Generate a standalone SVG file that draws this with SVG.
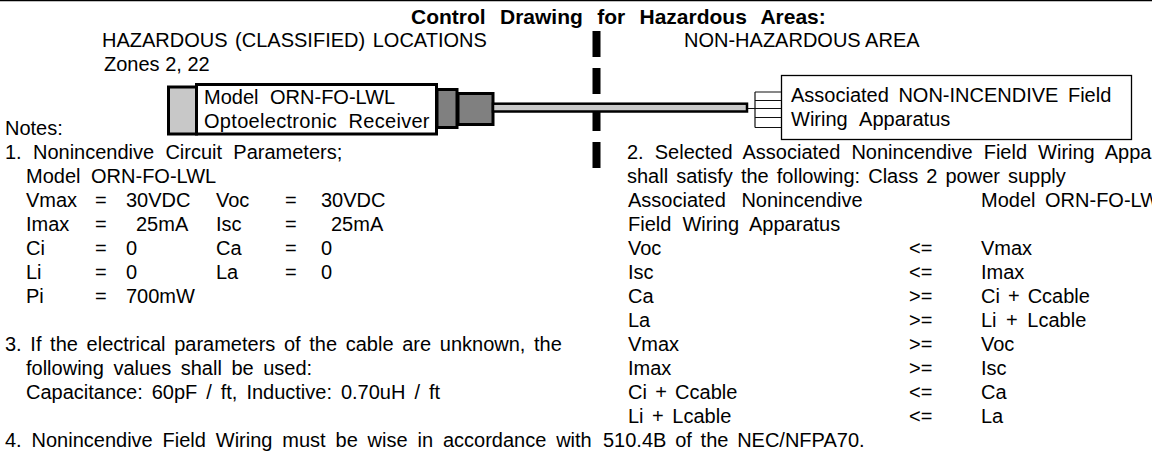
<svg xmlns="http://www.w3.org/2000/svg" width="1152" height="451" viewBox="0 0 1152 451">
<style>
text{font-family:"Liberation Sans",Arial,sans-serif;font-size:20px;fill:#000;word-spacing:3px;white-space:pre}
.b{font-weight:bold;font-size:21px;word-spacing:8.500px}
.k{stroke:#000;stroke-width:3}
.t{stroke:#111;stroke-width:1.200;fill:none}
</style>
<rect width="1152" height="451" fill="#fff"/>
<path d="M0 0.5H1152" stroke="#000" stroke-width="1.5"/>
<g id="divider"><path d="M596.500 31V168" stroke="#000" stroke-width="8" stroke-dasharray="26 11" fill="none"/></g>
<g id="receiver">
<rect x="168.500" y="87" width="28" height="47" fill="#c8c8c8" class="k"/>
<rect x="437" y="89.500" width="20" height="38" fill="#808080" class="k"/>
<rect x="458" y="93.500" width="35" height="31" fill="#808080" class="k"/>
<rect x="196.500" y="84.500" width="240" height="49.500" fill="#fff" class="k"/>
<text x="204" y="104" style="word-spacing:6px">Model ORN-FO-LWL</text>
<text x="204" y="128" style="word-spacing:5.500px;letter-spacing:.3px">Optoelectronic Receiver</text>
</g>
<g id="connectors">
<rect x="493" y="103.700" width="254" height="7.800" fill="#c8c8c8" stroke="#000" stroke-width="2.500"/>
<path class="t" d="M748 108.500H781M755 92H781M755 100.500H781M755 117.500H781M755 127.500H781M755 92V127.500"/>
</g>
<g id="apparatus">
<rect x="781.500" y="75.500" width="350" height="64" fill="#fff" stroke="#000" stroke-width="1.300"/>
<text x="791" y="102" style="word-spacing:4px">Associated NON-INCENDIVE Field</text>
<text x="791" y="126" style="word-spacing:7px">Wiring Apparatus</text>
</g>
<text class="b" x="411" y="24">Control Drawing for Hazardous Areas:</text>
<text x="102" y="47" style="word-spacing:2px">HAZARDOUS (CLASSIFIED) LOCATIONS</text>
<text x="104" y="71" style="word-spacing:0">Zones 2, 22</text>
<text x="684" y="47" style="word-spacing:0">NON-HAZARDOUS AREA</text>
<g id="notes-left">
<text x="5" y="135">Notes:</text>
<text x="5" y="159" style="word-spacing:5.700px">1. Nonincendive Circuit Parameters;</text>
<text x="26" y="183" style="word-spacing:5px">Model ORN-FO-LWL</text>
<text x="26" y="207">Vmax</text><text x="95" y="207">=</text><text x="126" y="207">30VDC</text><text x="216" y="207">Voc</text><text x="285" y="207">=</text><text x="321" y="207">30VDC</text>
<text x="26" y="231">Imax</text><text x="95" y="231">=</text><text x="136" y="231">25mA</text><text x="216" y="231">Isc</text><text x="285" y="231">=</text><text x="331" y="231">25mA</text>
<text x="26" y="255">Ci</text><text x="95" y="255">=</text><text x="126" y="255">0</text><text x="216" y="255">Ca</text><text x="285" y="255">=</text><text x="321" y="255">0</text>
<text x="26" y="279">Li</text><text x="95" y="279">=</text><text x="126" y="279">0</text><text x="216" y="279">La</text><text x="285" y="279">=</text><text x="321" y="279">0</text>
<text x="26" y="303">Pi</text><text x="95" y="303">=</text><text x="126" y="303">700mW</text>
<text x="5" y="351" style="word-spacing:3.100px">3. If the electrical parameters of the cable are unknown, the</text>
<text x="26" y="375" style="word-spacing:4px">following values shall be used:</text>
<text x="26" y="399" style="word-spacing:3.400px">Capacitance: 60pF / ft, Inductive: 0.70uH / ft</text>
<text x="5" y="447" style="word-spacing:4.300px">4. Nonincendive Field Wiring must be wise in accordance with</text>
<text x="603" y="447" style="word-spacing:3.200px">510.4B of the NEC/NFPA70.</text>
</g>
<g id="notes-right">
<text x="627" y="159" style="word-spacing:5.500px">2. Selected Associated Nonincendive Field Wiring Appa</text>
<text x="627" y="183" style="word-spacing:2.500px">shall satisfy the following: Class 2 power supply</text>
<text x="628" y="207" style="word-spacing:10px">Associated Nonincendive</text><text x="981" y="207" style="word-spacing:4px">Model ORN-FO-LW</text>
<text x="628" y="231" style="word-spacing:5.500px">Field Wiring Apparatus</text>
<text x="628" y="255">Voc</text><text x="909" y="255">&lt;=</text><text x="981" y="255">Vmax</text>
<text x="628" y="279">Isc</text><text x="909" y="279">&lt;=</text><text x="981" y="279">Imax</text>
<text x="628" y="303">Ca</text><text x="909" y="303">&gt;=</text><text x="981" y="303" style="word-spacing:2.500px">Ci + Ccable</text>
<text x="628" y="327">La</text><text x="909" y="327">&gt;=</text><text x="981" y="327" style="word-spacing:4px">Li + Lcable</text>
<text x="628" y="351">Vmax</text><text x="909" y="351">&gt;=</text><text x="981" y="351">Voc</text>
<text x="628" y="375">Imax</text><text x="909" y="375">&gt;=</text><text x="981" y="375">Isc</text>
<text x="628" y="399" style="word-spacing:2.700px">Ci + Ccable</text><text x="909" y="399">&lt;=</text><text x="981" y="399">Ca</text>
<text x="628" y="423" style="word-spacing:3px">Li + Lcable</text><text x="909" y="423">&lt;=</text><text x="981" y="423">La</text>
</g>
</svg>
